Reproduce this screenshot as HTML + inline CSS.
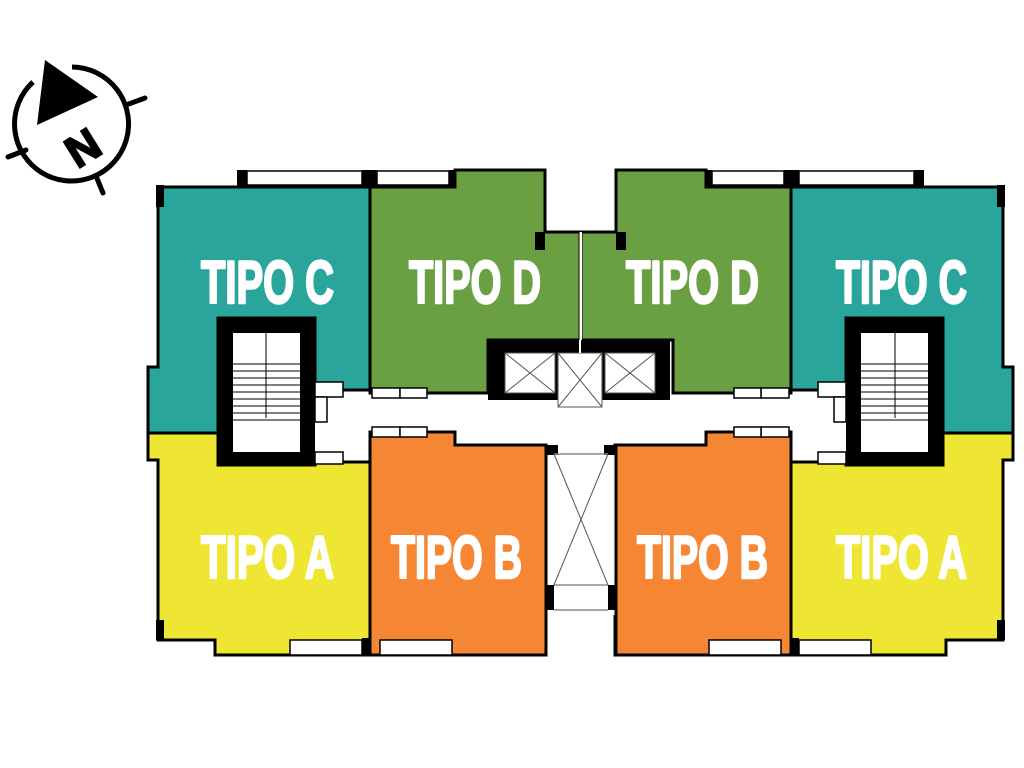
<!DOCTYPE html>
<html><head><meta charset="utf-8"><style>html,body{margin:0;padding:0;background:#fff}svg{display:block}</style></head>
<body>
<svg width="1024" height="768" viewBox="0 0 1024 768" xmlns="http://www.w3.org/2000/svg">
<defs>
<g id="half">
  <rect x="237" y="170" width="10" height="18" fill="#000"/>
  <rect x="247" y="171" width="115" height="14" fill="#fff" stroke="#000" stroke-width="1.5"/>
  <rect x="362" y="170" width="15" height="18" fill="#000"/>
  <rect x="377" y="171" width="72" height="14" fill="#fff" stroke="#000" stroke-width="1.5"/>
  <rect x="449" y="170" width="6" height="18" fill="#000"/>
  <polygon points="158,187 370,187 370,390 315,390 315,318 218,318 218,433 148,433 148,367 158,367" fill="#2aa59c" stroke="#000" stroke-width="3"/>
  <rect x="156" y="185" width="8" height="22" fill="#000"/>
  <polygon points="148,433 218,433 218,465 315,465 315,462 370,462 370,655 215,655 215,640 158,640 158,460 148,460" fill="#efe533" stroke="#000" stroke-width="3"/>
  <rect x="156" y="620" width="8" height="20" fill="#000"/>
  <rect x="290" y="640" width="72" height="15" fill="#fff" stroke="#000" stroke-width="1.5"/>
  <rect x="362" y="638" width="16" height="18" fill="#000"/>
  <polygon points="370,187 455,187 455,170 545,170 545,232 580,232 580,340 488,340 488,393 370,393" fill="#6aa042" stroke="#000" stroke-width="3"/>
  <rect x="535" y="232" width="10" height="18" fill="#000"/>
  <line x1="580" y1="232" x2="580" y2="340" stroke="#fff" stroke-width="2"/>
  <polygon points="370,432 455,432 455,445 546,445 546,655 370,655" fill="#f58634" stroke="#000" stroke-width="3"/>
  <rect x="380" y="640" width="72" height="15" fill="#fff" stroke="#000" stroke-width="1.5"/>
  <rect x="372" y="388" width="28" height="10" fill="#fff" stroke="#000" stroke-width="1.5"/>
  <rect x="400" y="388" width="27" height="10" fill="#fff" stroke="#000" stroke-width="1.5"/>
  <rect x="372" y="427" width="28" height="10" fill="#fff" stroke="#000" stroke-width="1.5"/>
  <rect x="400" y="427" width="27" height="10" fill="#fff" stroke="#000" stroke-width="1.5"/>
  <rect x="218" y="318" width="97" height="147" fill="#000"/>
  <rect x="233" y="333" width="67" height="119" fill="#fff"/>
  <line x1="266" y1="333" x2="266" y2="418" stroke="#000" stroke-width="1"/>
  <g stroke="#000" stroke-width="1">
    <line x1="233" y1="364" x2="300" y2="364"/><line x1="233" y1="371" x2="300" y2="371"/>
    <line x1="233" y1="378" x2="300" y2="378"/><line x1="233" y1="385" x2="300" y2="385"/>
    <line x1="233" y1="392" x2="300" y2="392"/><line x1="233" y1="399" x2="300" y2="399"/>
    <line x1="233" y1="406" x2="300" y2="406"/><line x1="233" y1="413" x2="300" y2="413"/>
    <line x1="233" y1="420" x2="300" y2="420"/>
  </g>
  <rect x="315" y="382" width="28" height="15" fill="#fff" stroke="#000" stroke-width="1.5"/>
  <rect x="315" y="397" width="12" height="25" fill="#fff" stroke="#000" stroke-width="1.5"/>
  <rect x="315" y="452" width="28" height="12" fill="#fff" stroke="#000" stroke-width="1.5"/>
</g>
</defs>
<use href="#half"/>
<use href="#half" transform="translate(1161,0) scale(-1,1)"/>
<rect x="488" y="340" width="182" height="60" fill="#000"/>
<rect x="505" y="353" width="50" height="40" fill="#fff" stroke="#555" stroke-width="1"/>
<rect x="558" y="353" width="44" height="54" fill="#fff" stroke="#555" stroke-width="1"/>
<rect x="605" y="353" width="50" height="40" fill="#fff" stroke="#555" stroke-width="1"/>
<g stroke="#555" stroke-width="1">
<line x1="505" y1="353" x2="555" y2="393"/><line x1="555" y1="353" x2="505" y2="393"/>
<line x1="558" y1="353" x2="602" y2="407"/><line x1="602" y1="353" x2="558" y2="407"/>
<line x1="605" y1="353" x2="655" y2="393"/><line x1="655" y1="353" x2="605" y2="393"/>
</g>
<line x1="580" y1="340" x2="580" y2="353" stroke="#fff" stroke-width="2"/>
<rect x="546" y="445" width="70" height="170" fill="#fff"/>
<rect x="546" y="445" width="12" height="10" fill="#000"/>
<rect x="604" y="445" width="12" height="10" fill="#000"/>
<rect x="546" y="585" width="8" height="25" fill="#000"/>
<rect x="608" y="585" width="8" height="25" fill="#000"/>
<line x1="554" y1="454" x2="608" y2="454" stroke="#888" stroke-width="1.5"/>
<line x1="554" y1="585" x2="608" y2="585" stroke="#555" stroke-width="1"/>
<line x1="554" y1="610" x2="608" y2="610" stroke="#888" stroke-width="1.5"/>
<g stroke="#555" stroke-width="1"><line x1="554" y1="454" x2="608" y2="585"/><line x1="608" y1="454" x2="554" y2="585"/></g>
<line x1="546" y1="445" x2="546" y2="655" stroke="#000" stroke-width="3"/>
<line x1="616" y1="445" x2="616" y2="655" stroke="#000" stroke-width="3"/>
<g fill="#fff" stroke="#fff" stroke-width="2.5" stroke-linejoin="round" font-family="'Liberation Sans Narrow','Liberation Sans',sans-serif" font-weight="bold" font-size="60">
<text x="201" y="303" textLength="133" lengthAdjust="spacingAndGlyphs">TIPO C</text>
<text x="409" y="303" textLength="132" lengthAdjust="spacingAndGlyphs">TIPO D</text>
<text x="626" y="303" textLength="133" lengthAdjust="spacingAndGlyphs">TIPO D</text>
<text x="836" y="303" textLength="131" lengthAdjust="spacingAndGlyphs">TIPO C</text>
<text x="201" y="578" textLength="133" lengthAdjust="spacingAndGlyphs">TIPO A</text>
<text x="391" y="578" textLength="131" lengthAdjust="spacingAndGlyphs">TIPO B</text>
<text x="637" y="578" textLength="131" lengthAdjust="spacingAndGlyphs">TIPO B</text>
<text x="836" y="578" textLength="131" lengthAdjust="spacingAndGlyphs">TIPO A</text>
</g>
<path d="M72,67 A57,57 0 1 1 33,82" fill="none" stroke="#000" stroke-width="5"/>
<polygon points="45,60 98,97 37,125" fill="#000"/>
<g stroke="#000" stroke-width="5" stroke-linecap="round">
<line x1="126" y1="105" x2="145" y2="98"/>
<line x1="8" y1="157" x2="26" y2="150"/>
<line x1="96" y1="176" x2="103" y2="193"/>
</g>
<text x="83" y="163" stroke="#000" stroke-width="2" font-family="'Liberation Sans',sans-serif" font-weight="bold" font-size="44" text-anchor="middle" transform="rotate(-32 83 148)">N</text>
</svg>
</body></html>
